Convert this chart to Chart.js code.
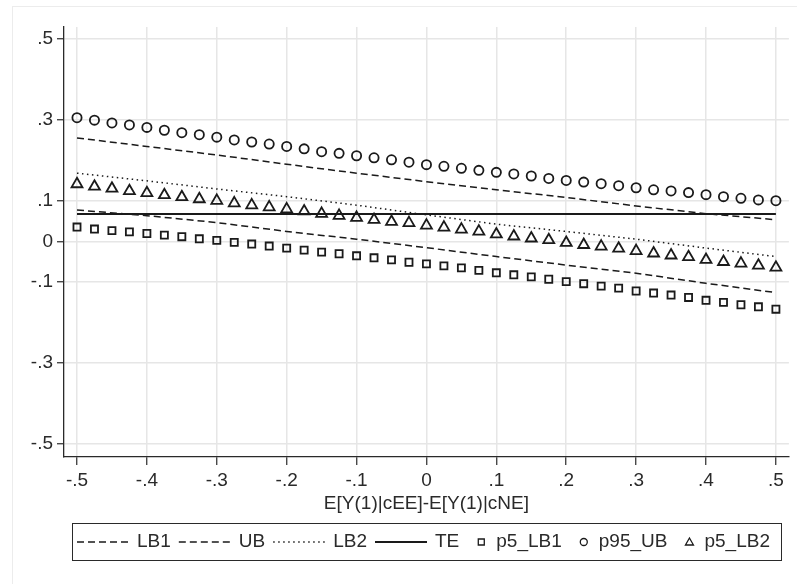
<!DOCTYPE html>
<html>
<head>
<meta charset="utf-8">
<script src="https://cdn.jsdelivr.net/npm/chart.js@4.4.1/dist/chart.umd.min.js"></script>
<style>
  html, body { margin: 0; padding: 0; background: #fff; }
  #wrap { width: 797px; height: 584px; position: relative; }
</style>
</head>
<body>
<div id="wrap"><canvas id="grafico" width="797" height="584"></canvas></div>
<script>
// x de los marcadores (41 puntos) y de las lineas (11 puntos)
const xMarcas = [-0.5, -0.475, -0.45, -0.425, -0.4, -0.375, -0.35, -0.325, -0.3, -0.275,
  -0.25, -0.225, -0.2, -0.175, -0.15, -0.125, -0.1, -0.075, -0.05, -0.025, 0,
  0.025, 0.05, 0.075, 0.1, 0.125, 0.15, 0.175, 0.2, 0.225, 0.25, 0.275, 0.3,
  0.325, 0.35, 0.375, 0.4, 0.425, 0.45, 0.475, 0.5];
const xLineas = [-0.5, -0.4, -0.3, -0.2, -0.1, 0, 0.1, 0.2, 0.3, 0.4, 0.5];

const LB1 = [0.078, 0.064, 0.047, 0.025, 0.006, -0.015, -0.037, -0.058, -0.078, -0.103, -0.126];
const UB = [0.256, 0.235, 0.214, 0.191, 0.169, 0.148, 0.128, 0.109, 0.088, 0.069, 0.054];
const LB2 = [0.169, 0.150, 0.130, 0.111, 0.090, 0.066, 0.043, 0.025, 0.006, -0.016, -0.037];
const TE = [0.068, 0.068, 0.068, 0.068, 0.068, 0.068, 0.068, 0.068, 0.068, 0.068, 0.068];

const p5_LB1 = [0.036, 0.031, 0.027, 0.024, 0.020, 0.016, 0.012, 0.007, 0.003, -0.002,
  -0.006, -0.011, -0.016, -0.021, -0.026, -0.030, -0.035, -0.040, -0.045, -0.051,
  -0.055, -0.060, -0.065, -0.071, -0.077, -0.082, -0.087, -0.093, -0.099, -0.104,
  -0.110, -0.115, -0.122, -0.127, -0.132, -0.138, -0.145, -0.150, -0.156, -0.161, -0.167];
const p95_UB = [0.306, 0.300, 0.293, 0.288, 0.282, 0.275, 0.269, 0.264, 0.258, 0.251,
  0.246, 0.241, 0.235, 0.229, 0.222, 0.218, 0.212, 0.207, 0.202, 0.196,
  0.190, 0.186, 0.181, 0.176, 0.171, 0.167, 0.162, 0.156, 0.151, 0.147,
  0.143, 0.138, 0.133, 0.128, 0.125, 0.121, 0.116, 0.111, 0.107, 0.103, 0.101];
const p5_LB2 = [0.142, 0.136, 0.131, 0.125, 0.120, 0.115, 0.110, 0.105, 0.101, 0.095,
  0.090, 0.085, 0.080, 0.075, 0.069, 0.064, 0.059, 0.054, 0.049, 0.046,
  0.040, 0.035, 0.030, 0.025, 0.018, 0.013, 0.008, 0.004, -0.003, -0.008,
  -0.012, -0.017, -0.023, -0.029, -0.034, -0.038, -0.045, -0.050, -0.054, -0.059, -0.064];

const xTicks = [-0.5, -0.4, -0.3, -0.2, -0.1, 0, 0.1, 0.2, 0.3, 0.4, 0.5];
const yTicks = [-0.5, -0.3, -0.1, 0, 0.1, 0.3, 0.5];
const tituloX = "E[Y(1)|cEE]-E[Y(1)|cNE]";

const NEGRO = "#1a1a1a";
const TEXTO = "#2a2a2a";
const FUENTE = "'Liberation Sans', Arial, sans-serif";
const TAM = 19;

function fmt(v) {
  const r = Math.round(v * 10) / 10;
  if (r === 0) return "0";
  return (r < 0 ? "-" : "") + String(Math.abs(r)).replace(/^0/, "");
}

function puntos(xs, ys) {
  return xs.map((x, i) => ({ x: x, y: ys[i] }));
}

function linea(label, ys, dash, ancho) {
  return {
    label: label,
    data: puntos(xLineas, ys),
    showLine: true,
    borderColor: NEGRO,
    borderWidth: ancho,
    borderDash: dash,
    pointRadius: 0,
    tipo: "linea",
  };
}

function marcador(label, ys, estilo, radio) {
  return {
    label: label,
    data: puntos(xMarcas, ys),
    showLine: false,
    pointStyle: estilo,
    pointRadius: radio,
    pointBorderWidth: 1.8,
    pointBorderColor: NEGRO,
    pointBackgroundColor: "rgba(0,0,0,0)",
    tipo: "marcador",
  };
}

// leyenda con recuadro, como en Stata
const leyendaStata = {
  id: "leyendaStata",
  beforeDraw(chart) {
    const ctx = chart.ctx;
    ctx.save();
    ctx.fillStyle = "#fff";
    ctx.fillRect(0, 0, chart.width, chart.height);
    ctx.strokeStyle = "#ececec";
    ctx.lineWidth = 1;
    ctx.strokeRect(12.5, 6.5, 820, 620);
    ctx.restore();
  },
  afterDraw(chart) {
    const ctx = chart.ctx;
    ctx.save();
    ctx.strokeStyle = TEXTO;
    ctx.lineWidth = 1;
    ctx.strokeRect(72.5, 523.5, 709, 37);

    const yc = 542;
    let x = 77;
    ctx.font = TAM + "px " + FUENTE;
    ctx.fillStyle = TEXTO;
    ctx.textBaseline = "middle";
    chart.data.datasets.forEach((ds) => {
      if (ds.tipo === "linea") {
        ctx.strokeStyle = NEGRO;
        ctx.lineWidth = ds.borderWidth;
        ctx.setLineDash(ds.borderDash || []);
        ctx.beginPath();
        ctx.moveTo(x, yc);
        ctx.lineTo(x + 52, yc);
        ctx.stroke();
        ctx.setLineDash([]);
        x += 60;
      } else {
        const cx = x + 14;
        ctx.strokeStyle = NEGRO;
        ctx.lineWidth = 1.3;
        ctx.beginPath();
        if (ds.pointStyle === "rect") {
          ctx.rect(cx - 3, yc - 3, 6, 6);
        } else if (ds.pointStyle === "circle") {
          ctx.arc(cx, yc, 3.5, 0, Math.PI * 2);
        } else {
          ctx.moveTo(cx, yc - 4);
          ctx.lineTo(cx + 4, yc + 3);
          ctx.lineTo(cx - 4, yc + 3);
          ctx.closePath();
        }
        ctx.stroke();
        x = cx + 15;
      }
      ctx.fillText(ds.label, x, yc);
      x += ctx.measureText(ds.label).width + 8;
    });
    ctx.restore();
  },
};

new Chart(document.getElementById("grafico"), {
  type: "scatter",
  data: {
    datasets: [
      linea("LB1", LB1, [7, 4], 1.5),
      linea("UB", UB, [7, 4], 1.5),
      linea("LB2", LB2, [1.5, 3.5], 1.5),
      linea("TE", TE, [], 2),
      marcador("p5_LB1", p5_LB1, "rect", 5),
      marcador("p95_UB", p95_UB, "circle", 4.6),
      marcador("p5_LB2", p5_LB2, "triangle", 6.3),
    ],
  },
  options: {
    responsive: false,
    animation: false,
    layout: { padding: { top: 27, right: 7, left: 0, bottom: 0 } },
    plugins: { legend: { display: false }, tooltip: { enabled: false } },
    scales: {
      x: {
        type: "linear",
        min: -0.5186,
        max: 0.5186,
        afterBuildTicks: (s) => { s.ticks = xTicks.map((v) => ({ value: v })); },
        afterFit: (s) => { s.height = 127; },
        ticks: {
          callback: (v) => fmt(v),
          font: { family: FUENTE, size: TAM },
          color: TEXTO,
          padding: 4,
          maxRotation: 0,
          autoSkip: false,
        },
        grid: { color: "#e6e6e6", lineWidth: 1.5, tickColor: TEXTO, tickLength: 8, tickWidth: 1.2 },
        border: { color: TEXTO, width: 1.3 },
        title: {
          display: true,
          text: tituloX,
          font: { family: FUENTE, size: TAM },
          color: TEXTO,
          padding: { top: 0, bottom: 69 },
        },
      },
      y: {
        type: "linear",
        min: -0.532,
        max: 0.53,
        afterBuildTicks: (s) => { s.ticks = yTicks.map((v) => ({ value: v })); },
        afterFit: (s) => { s.width = 64; },
        ticks: {
          callback: (v) => fmt(v),
          font: { family: FUENTE, size: TAM },
          color: TEXTO,
          padding: 4,
          autoSkip: false,
        },
        grid: { color: "#e6e6e6", lineWidth: 1.5, tickColor: TEXTO, tickLength: 7, tickWidth: 1.2 },
        border: { color: TEXTO, width: 1.3 },
      },
    },
  },
  plugins: [leyendaStata],
});
</script>
</body>
</html>
